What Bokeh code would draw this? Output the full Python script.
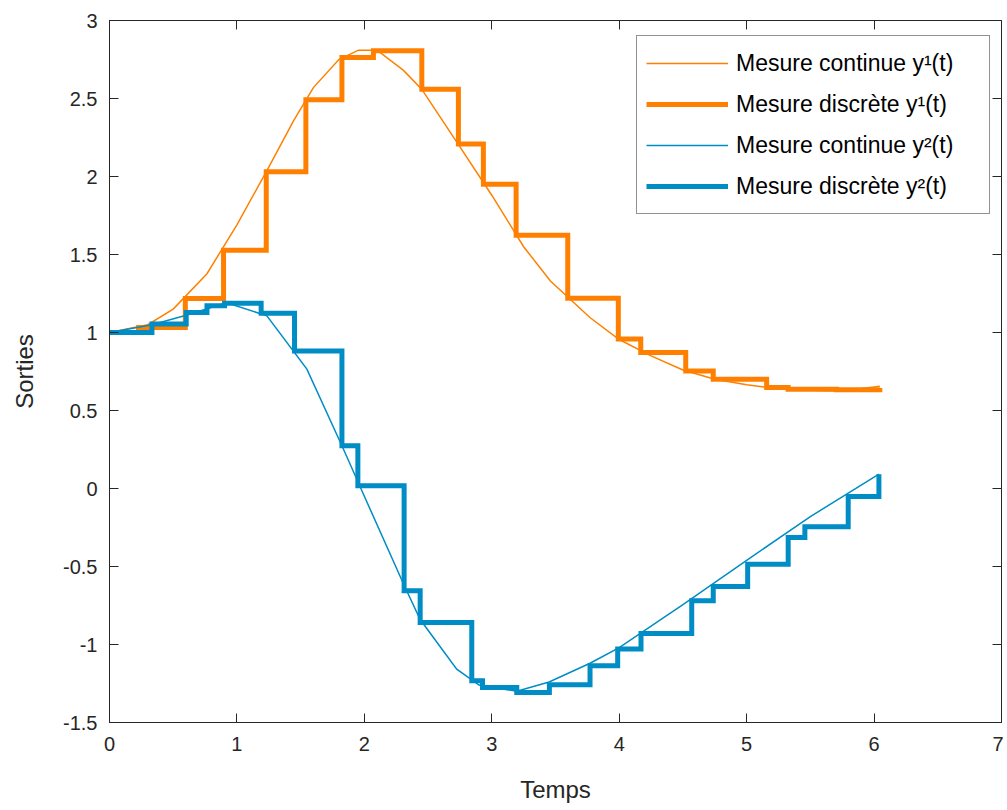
from bokeh.plotting import figure
from bokeh.models import Range1d, FixedTicker, LinearAxis, Legend, LegendItem
from bokeh.embed import file_html
from bokeh.resources import INLINE

# Continuous measurement y1(t)
t_c1 = [0, 0.3, 0.5, 0.765, 1.0, 1.25, 1.444, 1.6, 1.8, 1.954, 2.1, 2.307, 2.45, 2.75,
        3.0, 3.25, 3.46, 3.77, 4.0, 4.25, 4.5, 4.75, 5.0, 5.25, 5.5, 5.75, 6.045]
y_c1 = [1.0, 1.05, 1.15, 1.377, 1.69, 2.06, 2.357, 2.57, 2.75, 2.81, 2.81, 2.68, 2.56, 2.19,
        1.88, 1.55, 1.33, 1.096, 0.955, 0.85, 0.76, 0.70, 0.665, 0.64, 0.63, 0.625, 0.655]

# Discrete measurement y1(t)
t_d1 = [0, 0.228, 0.595, 0.895, 1.23, 1.541, 1.824, 2.071, 2.451, 2.738, 2.934, 3.191,
        3.596, 3.993, 4.169, 4.522, 4.738, 5.157, 5.326, 5.706, 6.045]
y_d1 = [1.0, 1.032, 1.218, 1.528, 2.03, 2.492, 2.763, 2.806, 2.56, 2.208, 1.951, 1.624,
        1.22, 0.958, 0.872, 0.754, 0.701, 0.647, 0.637, 0.633, 0.645]

# Continuous measurement y2(t)
t_c2 = [0, 0.333, 0.602, 0.92, 1.235, 1.549, 1.824, 2.0, 2.312, 2.438, 2.725, 2.9, 3.196,
        3.45, 3.771, 4.0, 4.5, 5.0, 5.5, 6.038]
y_c2 = [1.0, 1.05, 1.11, 1.19, 1.107, 0.765, 0.274, -0.05, -0.62, -0.84, -1.158, -1.26, -1.30,
        -1.24, -1.12, -1.02, -0.745, -0.46, -0.18, 0.092]

# Discrete measurement y2(t)
t_d2 = [0, 0.333, 0.602, 0.765, 0.903, 1.19, 1.452, 1.824, 1.949, 2.312, 2.438, 2.843, 2.927,
        3.196, 3.452, 3.771, 3.988, 4.171, 4.569, 4.738, 5.008, 5.326, 5.457, 5.797, 6.038]
y_d2 = [1.0, 1.054, 1.128, 1.171, 1.188, 1.124, 0.882, 0.274, 0.017, -0.656, -0.859, -1.233,
        -1.276, -1.308, -1.258, -1.137, -1.029, -0.929, -0.72, -0.628, -0.485, -0.314, -0.245,
        -0.051, 0.092]

x_ticks = [0, 1, 2, 3, 4, 5, 6, 7]
x_tick_labels = ["0", "1", "2", "3", "4", "5", "6", "7"]
y_ticks = [-1.5, -1, -0.5, 0, 0.5, 1, 1.5, 2, 2.5, 3]
y_tick_labels = ["-1.5", "-1", "-0.5", "0", "0.5", "1", "1.5", "2", "2.5", "3"]

labels = ["Mesure continue y\u00b9(t)", "Mesure discr\u00e8te y\u00b9(t)",
          "Mesure continue y\u00b2(t)", "Mesure discr\u00e8te y\u00b2(t)"]

ORANGE = "#ff8000"
BLUE = "#008cc4"
AX = "#262626"
FONT = "Liberation Sans"

p = figure(width=1003, height=806, output_backend="svg", toolbar_location=None,
           x_range=Range1d(0, 7), y_range=Range1d(-1.5, 3),
           min_border_left=109, min_border_top=20, min_border_bottom=84, min_border_right=2)
p.grid.visible = False
p.outline_line_color = AX
p.outline_line_width = 1
p.background_fill_color = "white"
p.border_fill_color = "white"

for ax, ticks, labs in ((p.xaxis[0], x_ticks, x_tick_labels), (p.yaxis[0], y_ticks, y_tick_labels)):
    ax.ticker = FixedTicker(ticks=ticks)
    ax.major_label_overrides = {t: l for t, l in zip(ticks, labs)}
    ax.major_tick_in = 9
    ax.major_tick_out = 0
    ax.minor_tick_in = 0
    ax.minor_tick_out = 0
    ax.axis_line_color = AX
    ax.major_tick_line_color = AX
    ax.major_label_text_color = AX
    ax.major_label_text_font = FONT
    ax.major_label_text_font_size = "20px"
    ax.axis_label_text_font = FONT
    ax.axis_label_text_font_size = "24px"
    ax.axis_label_text_font_style = "normal"
    ax.axis_label_text_color = AX

p.xaxis.axis_label = "Temps"
p.yaxis.axis_label = "Sorties"
p.xaxis.major_label_standoff = 14
p.yaxis.major_label_standoff = 12
p.xaxis.axis_label_standoff = 22
p.yaxis.axis_label_standoff = 22

for loc, ticks in (("above", x_ticks), ("right", y_ticks)):
    a = LinearAxis(ticker=FixedTicker(ticks=ticks), major_tick_in=9, major_tick_out=0,
                   minor_tick_in=0, minor_tick_out=0, axis_line_color=AX,
                   major_tick_line_color=AX, major_label_standoff=0,
                   major_label_overrides={t: "" for t in ticks})
    p.add_layout(a, loc)

r1 = p.line(t_c1, y_c1, line_color=ORANGE, line_width=1.5, line_join="miter")
r2 = p.step(t_d1, y_d1, mode="after", line_color=ORANGE, line_width=5, line_join="miter")
r3 = p.line(t_c2, y_c2, line_color=BLUE, line_width=1.5, line_join="miter")
r4 = p.step(t_d2, y_d2, mode="after", line_color=BLUE, line_width=5, line_join="miter")

legend = Legend(items=[LegendItem(label=labels[0], renderers=[r1]),
                       LegendItem(label=labels[1], renderers=[r2]),
                       LegendItem(label=labels[2], renderers=[r3]),
                       LegendItem(label=labels[3], renderers=[r4])],
                location=(527, 508), margin=0)
legend.border_line_color = AX
legend.border_line_width = 1
legend.background_fill_color = "white"
legend.background_fill_alpha = 1
legend.label_text_font = FONT
legend.label_text_font_size = "23px"
legend.label_text_color = "#000000"
legend.glyph_width = 82
legend.glyph_height = 30
legend.label_height = 36
legend.label_width = 244
legend.spacing = 5
legend.padding = 9
legend.label_standoff = 8
p.add_layout(legend)

open("out.html", "w").write(file_html(p, INLINE))
